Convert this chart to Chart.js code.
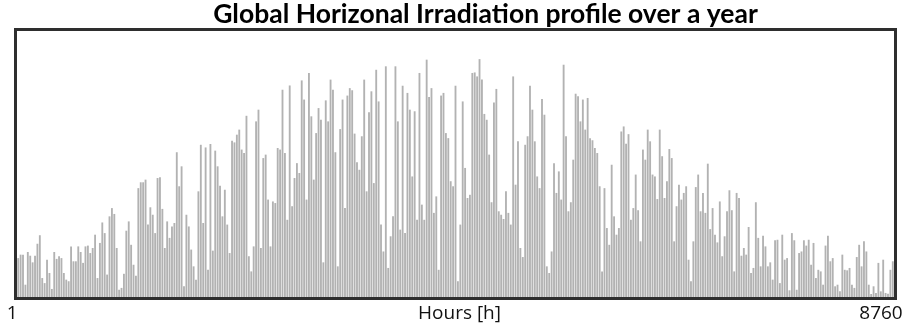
<!DOCTYPE html>
<html>
<head>
<meta charset="utf-8">
<script src="https://cdn.jsdelivr.net/npm/chart.js@4"></script>
<style>
    html, body { margin: 0; padding: 0; background: #fff; }
    #wrap { width: 906px; height: 326px; }
</style>
</head>
<body>
<div id="wrap"><canvas id="ghiChart"></canvas></div>
<script>
// Daily peak of global horizontal irradiation (W/m2), day 1 .. day 365
const dailyPeak = [
    145, 158, 158, 45, 168, 154, 129, 154, 199, 231, 70, 51, 139, 89, 29, 168, 142, 152, 145, 89, 64, 58, 189, 133, 133, 189, 168, 127, 189, 192,
    164, 183, 233, 70, 202, 279, 239, 83, 302, 333, 311, 183, 26, 33, 86, 248, 283, 195, 120, 79, 408, 430, 430, 440, 271, 336, 308, 239, 446, 449, 330, 183,
    283, 221, 264, 277, 543, 415, 490, 39, 308, 264, 177, 114, 64, 396, 571, 277, 561, 101, 574, 173, 549, 490, 417, 302, 402, 271, 164, 586, 580, 609, 628, 553, 540,
    680, 152, 95, 189, 659, 703, 183, 521, 534, 365, 189, 358, 352, 559, 553, 778, 540, 289, 794, 340, 446, 502, 465, 813, 741, 365, 841, 678, 440, 615, 709, 665,
    129, 738, 659, 816, 778, 543, 114, 630, 741, 333, 756, 784, 776, 613, 505, 477, 603, 816, 396, 693, 772, 427, 853, 734, 271, 170, 866, 108, 227, 302, 866, 659,
    252, 793, 239, 766, 703, 452, 697, 289, 841, 346, 289, 891, 751, 784, 315, 377, 101, 756, 766, 615, 596, 434, 415, 793, 58, 271, 734, 484, 371, 383, 841, 843, 828,
    893, 816, 687, 665, 534, 355, 730, 781, 321, 308, 292, 396, 315, 271, 828, 421, 584, 183, 149, 571, 603, 793, 703, 584, 452, 408, 743, 684, 114, 89, 170, 502,
    390, 471, 365, 872, 603, 321, 355, 515, 763, 753, 659, 741, 628, 747, 596, 588, 559, 540, 415, 95, 408, 258, 195, 496, 302, 233, 258, 621, 640, 575, 611, 289,
    333, 459, 325, 208, 553, 515, 628, 584, 459, 452, 367, 628, 528, 371, 434, 555, 521, 208, 340, 421, 365, 390, 415, 139, 58, 208, 412, 459, 321, 390, 315, 500,
    254, 333, 233, 204, 358, 152, 227, 321, 400, 325, 95, 390, 371, 154, 183, 158, 262, 89, 108, 355, 221, 114, 229, 189, 114, 129, 64, 212, 214, 51, 233, 139, 145,
    24, 239, 212, 26, 164, 170, 212, 192, 214, 120, 202, 70, 101, 95, 45, 192, 229, 133, 145, 39, 45, 20, 158, 101, 99, 108, 45, 33, 149, 195, 114, 208, 170,
    45, 10, 39, 14, 127, 20, 139, 14, 11, 101, 133
];

const hoursInYear = 8760;
const titleText = 'Global Horizonal Irradiation profile over a year';
const axisTexts = ['1', 'Hours [h]', '8760'];

// each day's peak sits at its noon hour
const points = dailyPeak.map((v, d) => ({ x: d * 24 + 12, y: v }));

// frame around the plot, title above it and the labels under it
const framePlugin = {
    id: 'frame',
    afterDraw(chart) {
        const c = chart.ctx;
        const a = chart.chartArea;
        const xs = chart.scales.x;
        const mid = (a.left + a.right) / 2;
        c.save();
        c.strokeStyle = '#2e2e2e';
        c.lineWidth = 3;
        c.strokeRect(a.left - 1.5, a.top - 1.5, a.right - a.left + 3, a.bottom - a.top + 3);

        // title sits a bit right of centre
        c.fillStyle = '#000';
        c.font = 'bold 26.5px Lato';
        c.textAlign = 'center';
        c.textBaseline = 'alphabetic';
        c.fillText(titleText, mid + 30, a.top - 8);

        c.fillStyle = '#111';
        c.font = '19px "Open Sans"';
        c.textBaseline = 'middle';
        const y = a.bottom + 17;
        c.fillText(axisTexts[0], xs.getPixelForValue(1) - 5, y);
        c.fillText(axisTexts[1], mid + 4, y);
        c.fillText(axisTexts[2], xs.getPixelForValue(hoursInYear) - 13, y);
        c.restore();
    }
};

const ctx = document.getElementById('ghiChart');

new Chart(ctx, {
    type: 'bar',
    data: {
        datasets: [{
            label: 'GHI',
            data: points,
            backgroundColor: '#b2b2b2',
            borderWidth: 0,
            barThickness: 1.2
        }]
    },
    plugins: [framePlugin],
    options: {
        responsive: true,
        maintainAspectRatio: false,
        animation: false,
        layout: {
            padding: { left: 17, right: 12, top: 31, bottom: 29 }
        },
        scales: {
            x: {
                type: 'linear',
                min: 0,
                max: hoursInYear,
                offset: false,
                display: false
            },
            y: {
                min: 0,
                max: 1000,
                display: false
            }
        },
        plugins: {
            legend: { display: false },
            tooltip: { enabled: false },
            title: { display: false }
        }
    }
});
</script>
</body>
</html>
